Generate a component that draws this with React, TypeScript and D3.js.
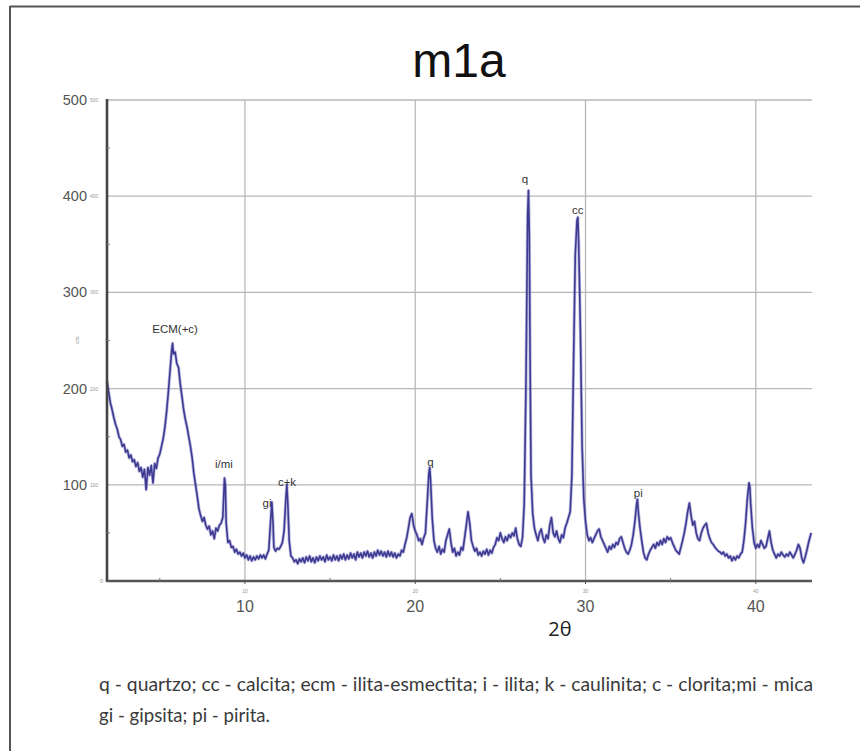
import React from "react";
import * as d3 from "d3";

const title = "m1a";
const xDomain: [number, number] = [1.9, 43.3];
const yDomain: [number, number] = [0, 500];
const yTicks = [100, 200, 300, 400, 500];
const yMinorTicks = [50, 150, 250, 350, 450];
const xTicks = [10, 20, 30, 40];
const xMinorTicks = [5, 15, 25, 35];
const xLabel = "2θ";
const legendLines = [
  "q - quartzo; cc - calcita; ecm - ilita-esmectita; i - ilita; k - caulinita; c - clorita;mi - mica",
  "gi - gipsita; pi - pirita.",
];

// 2θ positions
const twoTheta = [
  1.9, 2.0, 2.1, 2.2, 2.3, 2.4, 2.5, 2.6, 2.7, 2.8, 2.9, 3.0, 3.1, 3.2, 3.3, 3.4, 3.5, 3.6, 3.7, 3.8, 3.9,
  4.0, 4.1, 4.2, 4.3, 4.4, 4.5, 4.6, 4.7, 4.8, 4.9, 5.0, 5.1, 5.2, 5.3, 5.4, 5.5, 5.6, 5.7, 5.75, 5.8, 5.9,
  6.0, 6.1, 6.2, 6.3, 6.4, 6.5, 6.6, 6.7, 6.8, 6.9, 7.0, 7.1, 7.2, 7.3, 7.4, 7.5, 7.6, 7.7, 7.8, 7.9,
  8.0, 8.1, 8.2, 8.3, 8.4, 8.5, 8.6, 8.7, 8.8, 8.85, 8.9, 9.0, 9.1, 9.2, 9.3, 9.4, 9.5, 9.6, 9.7, 9.8, 9.9,
  10.0, 10.1, 10.2, 10.3, 10.4, 10.5, 10.6, 10.7, 10.8, 10.9, 11.0, 11.1, 11.2, 11.3, 11.4, 11.5, 11.58, 11.65, 11.7, 11.8, 11.9,
  12.0, 12.1, 12.2, 12.3, 12.4, 12.46, 12.52, 12.6, 12.7, 12.8, 12.9, 13.0, 13.1, 13.2, 13.3, 13.4, 13.5, 13.6, 13.7, 13.8, 13.9,
  14.0, 14.1, 14.2, 14.3, 14.4, 14.5, 14.6, 14.7, 14.8, 14.9, 15.0, 15.1, 15.2, 15.3, 15.4, 15.5, 15.6, 15.7, 15.8, 15.9,
  16.0, 16.1, 16.2, 16.3, 16.4, 16.5, 16.6, 16.7, 16.8, 16.9, 17.0, 17.1, 17.2, 17.3, 17.4, 17.5, 17.6, 17.7, 17.8, 17.9,
  18.0, 18.1, 18.2, 18.3, 18.4, 18.5, 18.6, 18.7, 18.8, 18.9, 19.0, 19.1, 19.2, 19.3, 19.4, 19.5, 19.6, 19.7, 19.8, 19.9,
  20.0, 20.1, 20.2, 20.3, 20.4, 20.5, 20.6, 20.7, 20.8, 20.85, 20.9, 21.0, 21.1, 21.2, 21.3, 21.4, 21.5, 21.6, 21.7, 21.8, 21.9,
  22.0, 22.1, 22.2, 22.3, 22.4, 22.5, 22.6, 22.7, 22.8, 22.9, 23.0, 23.1, 23.2, 23.3, 23.4, 23.5, 23.6, 23.7, 23.8, 23.9,
  24.0, 24.1, 24.2, 24.3, 24.4, 24.5, 24.6, 24.7, 24.8, 24.9, 25.0, 25.1, 25.2, 25.3, 25.4, 25.5, 25.6, 25.7, 25.8, 25.9,
  26.0, 26.1, 26.2, 26.3, 26.4, 26.5, 26.6, 26.65, 26.7, 26.75, 26.8, 26.9, 27.0, 27.1, 27.2, 27.3, 27.4, 27.5, 27.6, 27.7, 27.8, 27.9,
  28.0, 28.1, 28.2, 28.3, 28.4, 28.5, 28.6, 28.7, 28.8, 28.9, 29.0, 29.1, 29.2, 29.3, 29.4, 29.5, 29.55, 29.6, 29.7, 29.8, 29.9,
  30.0, 30.1, 30.2, 30.3, 30.4, 30.5, 30.6, 30.7, 30.8, 30.9, 31.0, 31.1, 31.2, 31.3, 31.4, 31.5, 31.6, 31.7, 31.8, 31.9,
  32.0, 32.1, 32.2, 32.3, 32.4, 32.5, 32.6, 32.7, 32.8, 32.9, 33.0, 33.05, 33.1, 33.2, 33.3, 33.4, 33.5, 33.6, 33.7, 33.8, 33.9,
  34.0, 34.1, 34.2, 34.3, 34.4, 34.5, 34.6, 34.7, 34.8, 34.9, 35.0, 35.1, 35.2, 35.3, 35.4, 35.5, 35.6, 35.7, 35.8, 35.9,
  36.0, 36.1, 36.2, 36.3, 36.4, 36.5, 36.6, 36.7, 36.8, 36.9, 37.0, 37.1, 37.2, 37.3, 37.4, 37.5, 37.6, 37.7, 37.8, 37.9,
  38.0, 38.1, 38.2, 38.3, 38.4, 38.5, 38.6, 38.7, 38.8, 38.9, 39.0, 39.1, 39.2, 39.3, 39.4, 39.5, 39.6, 39.65, 39.7, 39.8, 39.9,
  40.0, 40.1, 40.2, 40.3, 40.4, 40.5, 40.6, 40.7, 40.8, 40.9, 41.0, 41.1, 41.2, 41.3, 41.4, 41.5, 41.6, 41.7, 41.8, 41.9,
  42.0, 42.1, 42.2, 42.3, 42.4, 42.5, 42.6, 42.7, 42.8, 42.9, 43.0, 43.1, 43.25,
];

// intensity (counts)
const intensity = [
  208, 196, 185, 178, 170, 163, 158, 150, 147, 140, 142, 134, 136, 128, 131, 124, 126, 119, 123, 114, 118,
  108, 116, 95, 118, 110, 120, 102, 122, 117, 128, 132, 140, 148, 160, 176, 196, 218, 240, 247, 236, 238,
  226, 222, 205, 192, 178, 168, 160, 150, 140, 128, 112, 100, 88, 75, 68, 62, 66, 58, 54, 57,
  48, 52, 44, 55, 52, 58, 60, 66, 107, 100, 60, 40, 42, 35, 36, 30, 33, 28, 30, 26, 29,
  24, 27, 22, 26, 21, 25, 22, 26, 23, 27, 24, 27, 23, 28, 32, 60, 82, 60, 35, 31, 34,
  33, 36, 40, 52, 85, 100, 80, 42, 26, 24, 20, 22, 18, 23, 20, 24, 19, 25, 21, 26, 20,
  24, 19, 25, 21, 26, 22, 25, 20, 27, 22, 25, 21, 27, 22, 26, 21, 27, 23, 28, 22,
  27, 23, 29, 24, 28, 22, 30, 25, 29, 24, 30, 26, 31, 25, 29, 24, 30, 26, 32, 27,
  31, 26, 30, 25, 31, 26, 30, 25, 29, 24, 28, 26, 32, 30, 38, 45, 55, 66, 70, 58,
  52, 48, 42, 44, 38, 45, 50, 80, 112, 118, 105, 65, 42, 34, 30, 36, 28, 33, 30, 42, 48,
  54, 40, 30, 34, 26, 30, 27, 35, 32, 45, 58, 72, 60, 42, 36, 31, 34, 27, 30, 26,
  31, 28, 33, 27, 32, 29, 35, 38, 45, 42, 50, 44, 40, 46, 42, 48, 45, 50, 47, 55,
  44, 38, 36, 45, 80, 200, 380, 406, 360, 220, 110, 70, 55, 48, 42, 50, 54, 45, 40, 48, 44, 58,
  66, 50, 46, 52, 44, 40, 48, 45, 55, 60, 66, 72, 110, 230, 340, 375, 378, 350, 260, 140, 85,
  62, 48, 42, 45, 40, 44, 48, 52, 54, 46, 42, 38, 34, 30, 36, 33, 38, 35, 40, 38,
  44, 46, 40, 34, 30, 28, 32, 38, 48, 62, 80, 85, 72, 55, 42, 30, 24, 22, 28, 32, 35,
  38, 34, 40, 37, 42, 38, 44, 40, 46, 43, 45, 40, 36, 32, 30, 28, 35, 42, 50, 60,
  72, 81, 68, 58, 62, 50, 44, 42, 50, 55, 58, 60, 50, 44, 40, 38, 35, 33, 31, 30,
  28, 30, 26, 28, 24, 26, 21, 25, 22, 26, 24, 28, 30, 42, 60, 85, 102, 98, 80, 55, 40,
  34, 38, 35, 42, 38, 34, 36, 44, 52, 40, 32, 28, 24, 28, 26, 30, 27, 25, 28, 26,
  30, 27, 24, 28, 32, 38, 34, 24, 19, 25, 32, 40, 50,
];

const peakText = ["ECM(+c)", "i/mi", "gi", "c+k", "q", "q", "cc", "pi"];
const peakX = [5.9, 8.77, 11.3, 12.47, 20.9, 26.45, 29.55, 33.1];
const peakY = [258, 117, 77, 99, 120, 414, 382, 87];

export default function App() {
  const W = 860;
  const H = 751;
  const left = 107;
  const right = 812;
  const top = 100;
  const bottom = 581;

  const x = d3.scaleLinear().domain(xDomain).range([left, right]);
  const y = d3.scaleLinear().domain(yDomain).range([bottom, top]);

  const pts: [number, number][] = twoTheta.map((t, i) => [t, intensity[i]]);
  const line = d3
    .line<[number, number]>()
    .x((d) => x(d[0]))
    .y((d) => y(d[1]));
  const path = line(pts) || "";

  const sans = "'Liberation Sans', Arial, sans-serif";
  const body = "Lato, 'Open Sans', sans-serif";

  return (
    <svg
      width={W}
      height={H}
      viewBox={`0 0 ${W} ${H}`}
      style={{ position: "absolute", left: 0, top: 0, background: "#fff" }}
    >
      <rect x={0} y={0} width={W} height={H} fill="#ffffff" />
      {/* outer frame */}
      <line x1={10} y1={6.5} x2={W} y2={6.5} stroke="#555" strokeWidth={2} />
      <line x1={10} y1={6} x2={10} y2={H} stroke="#555" strokeWidth={2} />

      {/* title */}
      <text x={459} y={77} textAnchor="middle" fontFamily={sans} fontSize={48} fill="#111">
        {title}
      </text>

      {/* grid */}
      {yTicks.map((t) => (
        <line key={"gy" + t} x1={left} x2={right} y1={y(t)} y2={y(t)} stroke="#b8b8b8" strokeWidth={1.3} />
      ))}
      {xTicks.map((t) => (
        <line key={"gx" + t} x1={x(t)} x2={x(t)} y1={y(500)} y2={bottom} stroke="#b8b8b8" strokeWidth={1.3} />
      ))}

      {/* pattern */}
      <path d={path} fill="none" stroke="#7b78c2" strokeWidth={3.2} strokeOpacity={0.5} strokeLinejoin="round" />
      <path d={path} fill="none" stroke="#3d3a92" strokeWidth={1.6} strokeLinejoin="round" />

      {/* axes */}
      <line x1={left} x2={left} y1={top - 1} y2={bottom + 1} stroke="#444" strokeWidth={2.6} />
      <line x1={left} x2={right} y1={bottom} y2={bottom} stroke="#555" strokeWidth={2.6} />
      {yMinorTicks.map((t) => (
        <line key={"my" + t} x1={left} x2={left + 3} y1={y(t)} y2={y(t)} stroke="#777" strokeWidth={1} />
      ))}
      {xMinorTicks.map((t) => (
        <line key={"mx" + t} x1={x(t)} x2={x(t)} y1={bottom - 3} y2={bottom} stroke="#777" strokeWidth={1} />
      ))}
      {xTicks.map((t) => (
        <line key={"tx" + t} x1={x(t)} x2={x(t)} y1={bottom} y2={bottom + 3} stroke="#555" strokeWidth={1} />
      ))}

      {/* y tick labels */}
      {yTicks.map((t) => (
        <g key={"ly" + t}>
          <text x={87} y={y(t) + 5} textAnchor="end" fontFamily={sans} fontSize={14.5} fill="#555">
            {t}
          </text>
          <text x={90} y={y(t) + 2} fontFamily={sans} fontSize={5} fill="#999">
            {t}
          </text>
        </g>
      ))}
      <text x={103} y={y(0) + 2} textAnchor="end" fontFamily={sans} fontSize={6} fill="#999">
        0
      </text>
      <text
        x={79}
        y={340}
        textAnchor="middle"
        fontFamily={sans}
        fontSize={6}
        fill="#999"
        transform="rotate(-90 79 340)"
      >
        cts
      </text>

      {/* x tick labels */}
      {xTicks.map((t) => (
        <g key={"lx" + t}>
          <text x={x(t)} y={bottom + 12} textAnchor="middle" fontFamily={sans} fontSize={5} fill="#999">
            {t}
          </text>
          <text x={x(t)} y={bottom + 31} textAnchor="middle" fontFamily={sans} fontSize={16} fill="#555">
            {t}
          </text>
        </g>
      ))}
      <text x={560} y={636} textAnchor="middle" fontFamily="'Open Sans', sans-serif" fontSize={20} fill="#222">
        {xLabel}
      </text>

      {/* peak labels */}
      {peakText.map((s, i) => (
        <text
          key={"pk" + i}
          x={x(peakX[i])}
          y={y(peakY[i])}
          textAnchor="middle"
          fontFamily={sans}
          fontSize={11.5}
          fill="#333"
        >
          {s}
        </text>
      ))}

      {/* legend */}
      {legendLines.map((s, i) => (
        <text
          key={"lg" + i}
          x={99}
          y={691 + i * 31}
          fontFamily={body}
          fontSize={19}
          fill="#3a3a3a"
          textLength={i === 0 ? 714 : 171}
          lengthAdjust="spacingAndGlyphs"
        >
          {s}
        </text>
      ))}
    </svg>
  );
}
